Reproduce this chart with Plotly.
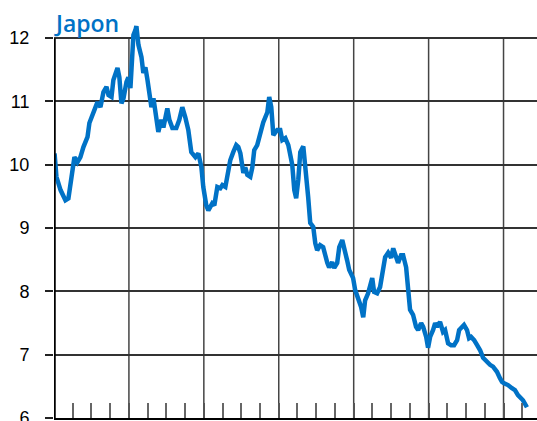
import plotly.graph_objects as go

# Series: decimal year and level
years = [
    1980.03, 1980.13, 1980.35, 1980.61, 1980.77, 1980.93, 1981.09, 1981.25, 1981.41, 1981.57,
    1981.79, 1981.89, 1982.11, 1982.32, 1982.48, 1982.64, 1982.80, 1982.91, 1983.07, 1983.17,
    1983.39, 1983.49, 1983.60, 1983.71, 1983.87, 1983.97, 1984.08, 1984.19, 1984.24, 1984.35,
    1984.40, 1984.51, 1984.67, 1984.77, 1984.88, 1984.99, 1985.09, 1985.20, 1985.31, 1985.47,
    1985.57, 1985.73, 1985.84, 1986.05, 1986.16, 1986.32, 1986.53, 1986.69, 1986.85, 1987.01,
    1987.17, 1987.33, 1987.55, 1987.71, 1987.87, 1987.97, 1988.13, 1988.24, 1988.45, 1988.56,
    1988.72, 1988.88, 1988.99, 1989.15, 1989.25, 1989.41, 1989.57, 1989.73, 1989.84, 1989.95,
    1990.11, 1990.21, 1990.32, 1990.48, 1990.59, 1990.69, 1990.85, 1991.01, 1991.17, 1991.39,
    1991.49, 1991.60, 1991.71, 1991.92, 1992.08, 1992.19, 1992.35, 1992.51, 1992.61, 1992.72,
    1992.83, 1992.93, 1993.04, 1993.15, 1993.31, 1993.41, 1993.57, 1993.68, 1993.84, 1993.95,
    1994.05, 1994.21, 1994.37, 1994.59, 1994.69, 1994.85, 1994.96, 1995.12, 1995.23, 1995.39,
    1995.49, 1995.65, 1995.76, 1995.97, 1996.08, 1996.24, 1996.40, 1996.51, 1996.61, 1996.77,
    1996.99, 1997.09, 1997.25, 1997.41, 1997.57, 1997.68, 1997.84, 1998.00, 1998.11, 1998.27,
    1998.37, 1998.53, 1998.64, 1998.80, 1998.91, 1999.01, 1999.17, 1999.33, 1999.44, 1999.60,
    1999.71, 1999.87, 1999.97, 2000.08, 2000.24, 2000.35, 2000.45, 2000.61, 2000.77, 2000.88,
    2001.04, 2001.20, 2001.36, 2001.52, 2001.63, 2001.73, 2001.89, 2002.05, 2002.16, 2002.27,
    2002.43, 2002.59, 2002.75, 2002.91, 2003.12, 2003.28, 2003.44, 2003.65, 2003.81, 2003.92,
    2004.03, 2004.24, 2004.45, 2004.61, 2004.77, 2004.93, 2005.04, 2005.25,
]
values = [
    10.18, 9.81, 9.60, 9.44, 9.47, 9.76, 10.12, 10.04, 10.12, 10.28,
    10.44, 10.66, 10.82, 10.99, 10.91, 11.15, 11.23, 11.10, 11.07, 11.34,
    11.53, 11.38, 10.97, 11.05, 11.31, 11.38, 11.21, 11.65, 12.05, 12.13,
    12.19, 11.89, 11.70, 11.45, 11.54, 11.34, 11.07, 10.91, 11.05, 10.71,
    10.52, 10.71, 10.59, 10.89, 10.71, 10.58, 10.58, 10.71, 10.91, 10.75,
    10.55, 10.20, 10.12, 10.18, 9.96, 9.65, 9.36, 9.28, 9.39, 9.36,
    9.65, 9.63, 9.68, 9.65, 9.81, 10.07, 10.20, 10.31, 10.28, 10.18,
    9.87, 9.96, 9.84, 9.81, 9.96, 10.23, 10.31, 10.52, 10.67, 10.83,
    11.07, 10.91, 10.47, 10.55, 10.55, 10.39, 10.42, 10.31, 10.12, 10.00,
    9.60, 9.47, 9.76, 10.20, 10.29, 10.03, 9.49, 9.08, 9.02, 8.76,
    8.65, 8.73, 8.70, 8.45, 8.38, 8.46, 8.37, 8.45, 8.70, 8.81,
    8.65, 8.49, 8.34, 8.21, 8.02, 7.89, 7.75, 7.59, 7.86, 7.97,
    8.21, 7.99, 7.97, 8.07, 8.37, 8.54, 8.61, 8.53, 8.68, 8.54,
    8.45, 8.57, 8.57, 8.38, 7.91, 7.71, 7.63, 7.44, 7.39, 7.50,
    7.44, 7.28, 7.11, 7.28, 7.39, 7.50, 7.44, 7.52, 7.36, 7.39,
    7.18, 7.15, 7.15, 7.23, 7.39, 7.42, 7.47, 7.39, 7.26, 7.28,
    7.23, 7.15, 7.07, 6.95, 6.88, 6.84, 6.81, 6.73, 6.63, 6.57,
    6.55, 6.52, 6.47, 6.44, 6.36, 6.32, 6.28, 6.17,
]
title_text = "Japon"
y_ticks = [6, 7, 8, 9, 10, 11, 12]

BLUE = "#0072C6"
X_START, X_END = 1980, 2005.787
MAJOR_STEP = 4
Y_MIN, Y_MAX, Y_HEADROOM = 6, 12, 12.35

fig = go.Figure()
fig.add_trace(go.Scatter(
    x=years, y=values, mode="lines",
    line=dict(color=BLUE, width=4.5),
    hoverinfo="skip", showlegend=False,
))

# Vertical grid and left spine stop at the top tick value
shapes = []
yr = X_START
while yr <= X_END:
    left = yr == X_START
    shapes.append(dict(
        type="line", xref="x", yref="y", x0=yr, x1=yr, y0=Y_MIN, y1=Y_MAX,
        line=dict(color="#000000" if left else "#444444", width=3.5 if left else 1.5),
        layer="below" if not left else "above",
    ))
    yr += MAJOR_STEP

fig.update_layout(
    width=537, height=421,
    margin=dict(l=54, r=0, t=15.8, b=3, autoexpand=False),
    paper_bgcolor="white", plot_bgcolor="white",
    shapes=shapes,
    annotations=[dict(
        text=title_text, xref="paper", yref="y", x=0, y=Y_MAX,
        xanchor="left", yanchor="bottom", showarrow=False,
        font=dict(family="Open Sans", size=23, color=BLUE, weight=600),
        xshift=-2, yshift=-3,
    )],
)
fig.update_xaxes(
    range=[X_START, X_END], showgrid=False, zeroline=False, automargin=False,
    showline=True, linecolor="#000000", linewidth=2,
    tick0=X_START, dtick=MAJOR_STEP, ticks="inside", ticklen=15,
    tickcolor="#555555", tickwidth=1.5, showticklabels=False,
    minor=dict(dtick=1, ticks="inside", ticklen=15, tickcolor="#666666",
               tickwidth=1.5, showgrid=False),
)
fig.update_yaxes(
    range=[Y_MIN, Y_HEADROOM], tickvals=y_ticks, ticktext=[str(v) for v in y_ticks],
    showgrid=True, gridcolor="#333333", gridwidth=1.5, zeroline=False, automargin=False,
    showline=False, ticks="outside", ticklen=8, tickcolor="#222222", tickwidth=1.5,
    ticklabelstandoff=12, ticklabeloverflow="allow",
    tickfont=dict(family="Liberation Sans", size=18, color="#000000"),
)

fig.write_html("out.html")
